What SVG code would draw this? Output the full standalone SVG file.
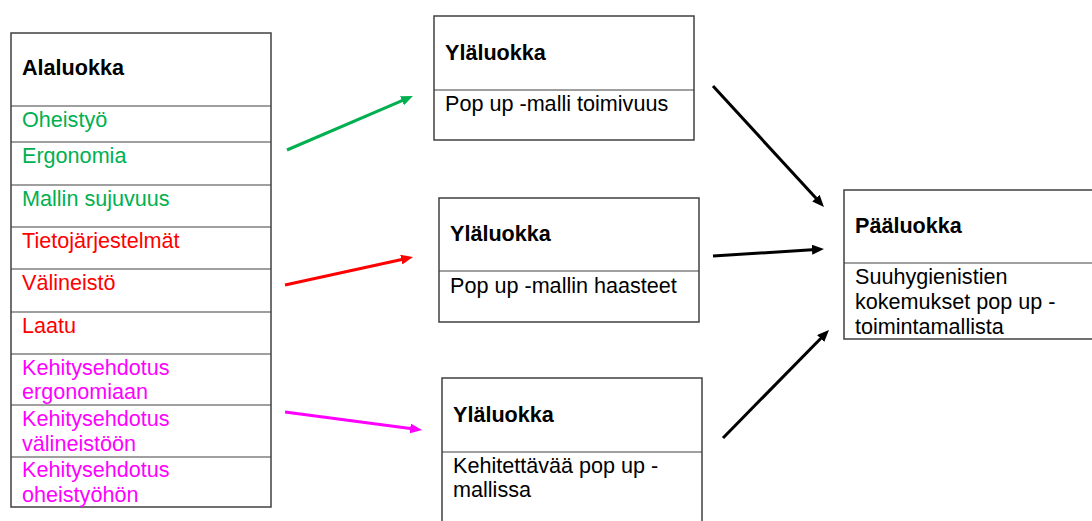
<svg xmlns="http://www.w3.org/2000/svg" width="1092" height="521" viewBox="0 0 1092 521">
<style>
text{font-family:"Liberation Sans",Arial,sans-serif;font-size:21.6px;fill:#000}
.b{font-weight:bold}
.g{fill:#00B050}.r{fill:#FF0000}.m{fill:#FF00FF}
.box{fill:#fff;stroke:#404040;stroke-width:1.5}
.div{stroke:#404040;stroke-width:1.2}
.a{stroke-width:3;fill:none}
</style>
<defs>
<marker id="hg" viewBox="0 0 12 10" refX="4" refY="5" markerWidth="12" markerHeight="10" markerUnits="userSpaceOnUse" orient="auto"><path d="M0,0L12,5L0,10z" fill="#00B050"/></marker>
<marker id="hr" viewBox="0 0 12 10" refX="4" refY="5" markerWidth="12" markerHeight="10" markerUnits="userSpaceOnUse" orient="auto"><path d="M0,0L12,5L0,10z" fill="#FF0000"/></marker>
<marker id="hm" viewBox="0 0 12 10" refX="4" refY="5" markerWidth="12" markerHeight="10" markerUnits="userSpaceOnUse" orient="auto"><path d="M0,0L12,5L0,10z" fill="#FF00FF"/></marker>
<marker id="hk" viewBox="0 0 12 10" refX="4" refY="5" markerWidth="12" markerHeight="10" markerUnits="userSpaceOnUse" orient="auto"><path d="M0,0L12,5L0,10z" fill="#000"/></marker>
</defs>
<rect width="1092" height="521" fill="#fff"/>
<g id="alaluokka">
<rect class="box" x="11" y="33" width="260" height="474"/>
<g class="div">
<line x1="11" y1="106" x2="271" y2="106"/>
<line x1="11" y1="142" x2="271" y2="142"/>
<line x1="11" y1="185" x2="271" y2="185"/>
<line x1="11" y1="227" x2="271" y2="227"/>
<line x1="11" y1="269" x2="271" y2="269"/>
<line x1="11" y1="312" x2="271" y2="312"/>
<line x1="11" y1="354" x2="271" y2="354"/>
<line x1="11" y1="405" x2="271" y2="405"/>
<line x1="11" y1="457" x2="271" y2="457"/>
</g>
<text class="b" x="22" y="75">Alaluokka</text>
<text class="g" x="22" y="127">Oheistyö</text>
<text class="g" x="22" y="163">Ergonomia</text>
<text class="g" x="22" y="206">Mallin sujuvuus</text>
<text class="r" x="22" y="248">Tietojärjestelmät</text>
<text class="r" x="22" y="290">Välineistö</text>
<text class="r" x="22" y="333">Laatu</text>
<text class="m" x="22" y="375">Kehitysehdotus</text>
<text class="m" x="22" y="399">ergonomiaan</text>
<text class="m" x="22" y="426">Kehitysehdotus</text>
<text class="m" x="22" y="451">välineistöön</text>
<text class="m" x="22" y="477">Kehitysehdotus</text>
<text class="m" x="22" y="502">oheistyöhön</text>
</g>
<g id="ylaluokka1">
<rect class="box" x="434" y="16" width="260" height="124"/>
<line class="div" x1="434" y1="90" x2="694" y2="90"/>
<text class="b" x="445" y="60">Yläluokka</text>
<text x="445" y="111">Pop up -malli toimivuus</text>
</g>
<g id="ylaluokka2">
<rect class="box" x="439" y="198" width="260" height="124"/>
<line class="div" x1="439" y1="271" x2="699" y2="271"/>
<text class="b" x="450" y="241">Yläluokka</text>
<text x="450" y="293">Pop up -mallin haasteet</text>
</g>
<g id="ylaluokka3">
<rect class="box" x="442" y="378" width="260" height="160"/>
<line class="div" x1="442" y1="452" x2="702" y2="452"/>
<text class="b" x="453" y="422">Yläluokka</text>
<text x="453" y="473">Kehitettävää pop up -</text>
<text x="453" y="497">mallissa</text>
</g>
<g id="paaluokka">
<rect class="box" x="844" y="190" width="260" height="149"/>
<line class="div" x1="844" y1="263" x2="1092" y2="263"/>
<text class="b" x="855" y="233">Pääluokka</text>
<text x="855" y="284">Suuhygienistien</text>
<text x="855" y="309">kokemukset pop up -</text>
<text x="855" y="334">toimintamallista</text>
</g>
<g id="connectors">
<line class="a" stroke="#00B050" x1="287" y1="150" x2="405.6" y2="99.2" marker-end="url(#hg)"/>
<line class="a" stroke="#FF0000" x1="285" y1="285" x2="405.2" y2="258.7" marker-end="url(#hr)"/>
<line class="a" stroke="#FF00FF" x1="285" y1="412" x2="414.1" y2="429" marker-end="url(#hm)"/>
<line class="a" stroke="#000" x1="713" y1="86" x2="818.6" y2="201.1" marker-end="url(#hk)"/>
<line class="a" stroke="#000" x1="713" y1="256" x2="816" y2="249.5" marker-end="url(#hk)"/>
<line class="a" stroke="#000" x1="723" y1="438" x2="823.4" y2="335.7" marker-end="url(#hk)"/>
</g>
</svg>
